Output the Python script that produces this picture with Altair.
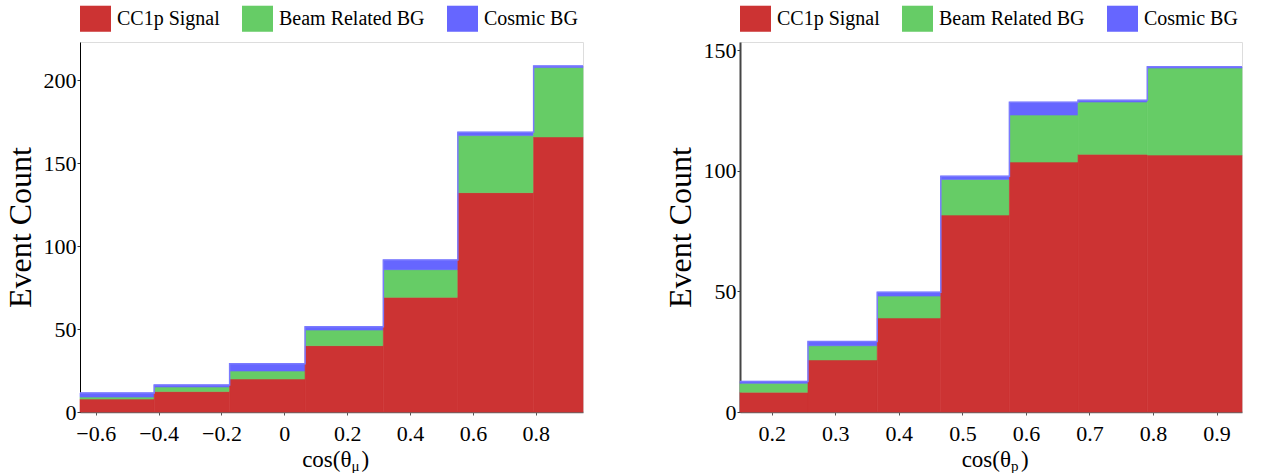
import altair as alt
import pandas as pd

series = ["CC1p Signal", "Beam Related BG", "Cosmic BG"]
colors = ["#CC3333", "#66CC66", "#6666FF"]

# cos(theta_mu) panel
mu_edges = [-0.65, -0.414, -0.174, 0.066, 0.315, 0.552, 0.793, 0.95]
mu_signal = [7.8, 12.3, 19.9, 40.0, 69.1, 132.2, 165.8]
mu_beam = [1.2, 2.8, 4.8, 9.4, 16.7, 34.4, 41.8]
mu_cosmic = [2.5, 1.2, 4.4, 2.0, 5.8, 2.0, 1.0]
mu_xticks = [-0.6, -0.4, -0.2, 0, 0.2, 0.4, 0.6, 0.8]
mu_yticks = [0, 50, 100, 150, 200]

# cos(theta_p) panel
p_edges = [0.15, 0.257, 0.366, 0.466, 0.574, 0.682, 0.791, 0.94]
p_signal = [8.2, 21.6, 39.0, 81.7, 103.7, 106.9, 106.6]
p_beam = [3.7, 5.9, 9.1, 14.8, 19.5, 21.7, 36.1]
p_cosmic = [0.8, 1.7, 1.6, 1.3, 5.3, 0.7, 0.5]
p_xticks = [0.2, 0.3, 0.4, 0.5, 0.6, 0.7, 0.8, 0.9]
p_yticks = [0, 50, 100, 150]

FONT = "Times New Roman, Liberation Serif, serif"


def panel(edges, comps, xdomain, xticks, ydomain, yticks, sub, w, h,
          axis_color, axis_width):
    rows = []
    env = []
    for i in range(len(edges) - 1):
        lo = 0.0
        for s, vals in zip(series, comps):
            rows.append(dict(x0=edges[i], x1=edges[i + 1], y0=lo,
                             y1=lo + vals[i], series=s))
            lo += vals[i]
        env.append(dict(x=edges[i], t=lo))
    env.append(dict(x=edges[-1], t=env[-1]["t"]))
    df = pd.DataFrame(rows)
    edf = pd.DataFrame(env)

    xs = alt.Scale(domain=xdomain, nice=False, zero=False)
    ys = alt.Scale(domain=ydomain, nice=False)
    cs = alt.Scale(domain=series, range=colors)

    xaxis = alt.Axis(values=xticks, title=None, grid=False,
                     labelExpr="datum.value == 0 ? '0' : format(datum.value, '.1f')",
                     labelFont=FONT, labelFontSize=22, labelColor="black",
                     tickSize=3, labelPadding=8, tickColor="#555",
                     domainColor="#666", domainWidth=1.5, labelFlush=False)
    yaxis = alt.Axis(values=yticks, title="Event Count", grid=False,
                     titleFont=FONT, titleFontSize=32, titleFontWeight="normal",
                     titleColor="black", titlePadding=6,
                     labelFont=FONT, labelFontSize=22, labelColor="black",
                     tickSize=3, labelPadding=1, tickColor="#333",
                     domainColor=axis_color, domainWidth=axis_width,
                     labelFlush=False)

    bars = alt.Chart(df).mark_rect(strokeWidth=0.6).encode(
        x=alt.X("x0:Q", scale=xs, axis=xaxis),
        x2="x1:Q",
        y=alt.Y("y0:Q", scale=ys, axis=yaxis),
        y2="y1:Q",
        stroke=alt.Stroke("series:N", scale=cs, legend=None),
        color=alt.Color(
            "series:N",
            scale=cs,
            legend=alt.Legend(
                title=None, orient="top", direction="horizontal",
                symbolType="M-1,-0.84H1V0.84H-1Z", symbolSize=961,
                symbolStrokeWidth=0, symbolOpacity=1,
                labelFont=FONT, labelFontSize=20, labelColor="black",
                labelOffset=6, columnPadding=22, offset=10, padding=0,
            ),
        ),
    )

    envelope = alt.Chart(edf).mark_line(
        interpolate="step-after", color="#7A7AFF", strokeWidth=1.5
    ).encode(x=alt.X("x:Q", scale=xs), y=alt.Y("t:Q", scale=ys))

    t_main = alt.Chart(pd.DataFrame({"t": ["cos(θ"]})).mark_text(
        font=FONT, fontSize=23, align="right", baseline="alphabetic", color="black"
    ).encode(text="t:N", x=alt.value(w / 2 + 20), y=alt.value(h + 55))
    t_sub = alt.Chart(pd.DataFrame({"t": [sub]})).mark_text(
        font=FONT, fontSize=15, align="left", baseline="alphabetic", color="black"
    ).encode(text="t:N", x=alt.value(w / 2 + 20), y=alt.value(h + 59))
    t_close = alt.Chart(pd.DataFrame({"t": [")"]})).mark_text(
        font=FONT, fontSize=23, align="left", baseline="alphabetic", color="black"
    ).encode(text="t:N", x=alt.value(w / 2 + 30), y=alt.value(h + 55))

    return alt.layer(bars, envelope, t_main, t_sub, t_close).properties(
        width=w, height=h
    )


left = panel(mu_edges, [mu_signal, mu_beam, mu_cosmic], [-0.65, 0.95],
             mu_xticks, [0, 223], mu_yticks, "μ", 503, 370, "#000", 1)
right = panel(p_edges, [p_signal, p_beam, p_cosmic], [0.15, 0.94],
              p_xticks, [0, 153.5], p_yticks, "p", 502, 370, "#444", 2)

chart = alt.hconcat(left, right, spacing=76).resolve_legend(
    color="independent"
).resolve_scale(color="independent", stroke="independent").properties(
    padding={"left": 3, "top": 2, "right": 0, "bottom": 0}
).configure_view(stroke="#444", strokeWidth=1.2).configure(background="white")

chart.save("out.html", embed_options={"renderer": "svg", "actions": False})
